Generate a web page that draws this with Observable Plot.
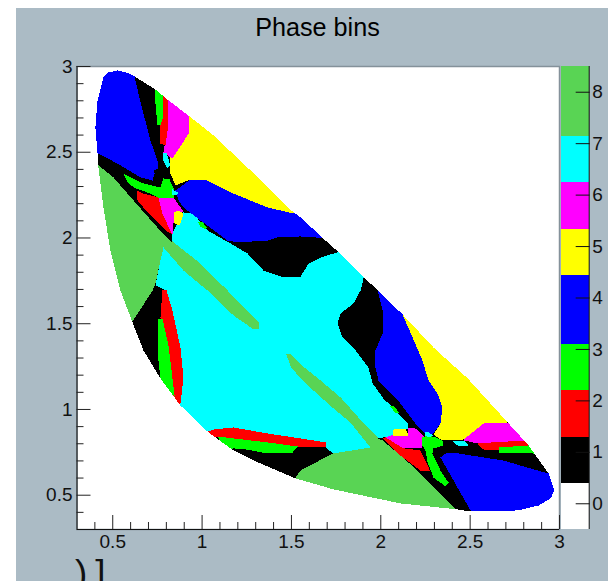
<!DOCTYPE html>
<html>
<head>
<meta charset="utf-8">
<script src="https://cdn.jsdelivr.net/npm/d3@7"></script>
<script src="https://cdn.jsdelivr.net/npm/@observablehq/plot@0.6"></script>
<style>
html,body{margin:0;padding:0;background:#fff;overflow:hidden}
#stage{position:relative;width:608px;height:581px;overflow:hidden;font-family:"Liberation Sans",sans-serif}
#pad{position:absolute;left:16px;top:8px;right:0;bottom:0;background:#abbbc5}
#stage svg{position:absolute;left:0;top:0}
#title{position:absolute;left:16px;width:603px;top:12px;text-align:center;font-size:25.2px;line-height:30px;color:#000}
#cut{position:absolute;left:75px;top:553px;font-size:37px;line-height:42px;letter-spacing:8px;color:#111;white-space:pre}
</style>
</head>
<body>
<div id="stage"><div id="pad"></div><div id="title">Phase bins</div><div id="cut">)]</div></div>
<script>
const binLabels = [0,1,2,3,4,5,6,7,8];
const binColors = ["#ffffff","#000000","#ff0000","#00ff00","#0000ff","#ffff00","#ff00ff","#00ffff","#59d454"];
const bandLower = [-0.5,0.39,1.29,2.2,3.09,4.44,5.33,6.25,7.14];
const bandUpper = [0.39,1.29,2.2,3.09,4.44,5.33,6.25,7.14,8.5];
const xyMajor = [0.5,1,1.5,2,2.5,3];
const xMajor = xyMajor;
const yMajor = xyMajor;
const xyMinor = [0.4,0.6,0.7,0.8,0.9,1.1,1.2,1.3,1.4,1.6,1.7,1.8,1.9,2.1,2.2,2.3,2.4,2.6,2.7,2.8,2.9];

const fullFrame = [0.3,0.3, 3,0.3, 3,3, 0.3,3];
const blueUpperLeft = [.622,2.942,.644,2.843,.672,2.726,.711,2.568,.750,2.452,.756,2.405,.728,2.394,.734,2.376,.723,2.335,.655,2.353,.527,2.434,.415,2.493,.348,2.493,.348,3,.6,3];
const greenLeft = [.420,2.423,.504,2.353,.616,2.219,.750,2.061,.834,1.974,.784,1.945,.767,1.869,.739,1.735,.723,1.694,.611,1.513,.376,1.513,.376,2.423];
const cyanMain = [.834,2.026,.862,2.085,.896,2.149,.952,2.143,1.030,2.044,1.159,1.968,1.254,1.910,1.344,1.810,1.456,1.770,1.551,1.775,1.596,1.851,1.663,1.886,1.791,1.927,1.914,1.810,1.887,1.694,1.847,1.618,1.775,1.560,1.758,1.501,1.786,1.420,1.859,1.344,1.931,1.245,1.954,1.152,2.015,1.064,2.094,.982,2.150,.918,2.150,.889,2.071,.848,1.982,.831,1.942,.778,1.735,.743,1.696,.773,1.691,.808,1.551,.831,1.366,.860,1.176,.895,1.064,.883,.991,.819,.823,.936,.879,1.035,.896,1.187,.879,1.361,.834,1.577,.795,1.694,.739,1.723,.767,1.869,.784,1.945,.834,1.974];
const greenBandUpper = [.834,1.980,.991,1.851,1.142,1.694,1.316,1.507,1.316,1.472,1.288,1.467,1.176,1.548,1.030,1.694,.896,1.810,.784,1.945];
const yellowUpper = [.924,2.714,.924,2.609,.890,2.551,.823,2.469,.823,2.376,.851,2.306,.935,2.341,1.030,2.335,1.176,2.259,1.366,2.178,1.512,2.143,1.551,2.120,1.607,2.219,.991,2.802];
const blueMiddle = [.851,2.277,.868,2.219,.896,2.178,.991,2.102,1.142,1.985,1.198,1.974,1.366,1.985,1.422,2.003,1.551,2.009,1.719,1.997,1.607,2.189,1.512,2.143,1.366,2.178,1.176,2.259,1.030,2.335,.935,2.341];
const greenSpeckUpper = [.974,2.096,.997,2.096,1.030,2.061,1.019,2.050,.991,2.067];
const magentaUpper = [.812,2.802,.851,2.860,.963,2.773,.924,2.714,.924,2.609,.890,2.551,.834,2.464,.784,2.498,.790,2.539,.812,2.668];
const redUpper = [.784,2.831,.795,2.860,.812,2.802,.812,2.668,.795,2.539,.767,2.551,.762,2.656,.784,2.714];
const greenUpper = [.739,2.918,.795,2.889,.784,2.831,.784,2.714,.767,2.656,.750,2.656,.739,2.784];
const cyanUpper = [.778,2.498,.801,2.493,.823,2.423,.806,2.405,.784,2.452];
const greenCentre = [.560,2.376,.599,2.353,.672,2.318,.767,2.294,.784,2.347,.818,2.341,.840,2.289,.840,2.236,.756,2.236,.695,2.265,.627,2.289,.588,2.318];
const cyanTinyUpper = [.834,2.283,.868,2.265,.857,2.248,.834,2.248];
const redCentre = [.633,2.277,.672,2.259,.756,2.236,.778,2.143,.834,2.020,.795,2.044,.695,2.149,.639,2.219];
const magentaCentre = [.756,2.236,.840,2.236,.896,2.154,.840,2.149,.840,2.085,.834,2.015,.778,2.143];
const yellowCentre = [.840,2.149,.868,2.160,.896,2.143,.874,2.073,.846,2.085];
const redLeft = [.778,1.694,.801,1.694,.834,1.577,.879,1.361,.896,1.187,.879,1.035,.868,1.029,.840,1.081,.812,1.268,.784,1.478,.767,1.536];
const greenStripLeft = [.756,1.530,.778,1.530,.812,1.373,.846,1.081,.767,1.111,.767,1.181,.756,1.286];
const redLower = [1.019,.866,1.064,.883,1.176,.895,1.366,.860,1.551,.831,1.691,.808,1.696,.778,1.534,.784,1.366,.808,1.176,.831,1.086,.842,1.058,.837];
const greenLower = [1.086,.842,1.176,.831,1.366,.808,1.534,.784,1.506,.749,1.338,.749,1.243,.767,1.176,.773,1.131,.761];
const greenBottom = [1.523,.603,1.551,.644,1.730,.743,1.942,.778,1.942,.802,1.982,.831,2.010,.819,2.110,.732,2.205,.644,2.429,.411,2.110,.353,1.495,.528];
const greenBandLower = [1.472,1.321,1.495,1.321,1.551,1.262,1.663,1.169,1.775,1.070,1.875,.953,1.987,.831,1.942,.778,1.830,.924,1.735,1.006,1.635,1.099,1.551,1.181,1.495,1.251];
const blueRight = [1.982,1.694,2.010,1.577,2.010,1.443,1.970,1.344,1.970,1.245,1.987,1.169,2.110,1.035,2.194,.918,2.250,.860,2.289,.854,2.334,.918,2.345,1.012,2.317,1.093,2.267,1.169,2.233,1.286,2.122,1.554,2.082,1.635,1.942,1.752];
const yellowRight = [2.122,1.554,2.233,1.286,2.267,1.169,2.317,1.093,2.345,1.012,2.334,.918,2.295,.854,2.345,.819,2.463,.825,2.513,.866,2.575,.918,2.710,.924,2.782,.965,2.166,1.606];
const magentaRight = [2.463,.825,2.513,.866,2.575,.918,2.715,.924,2.754,.982,2.866,.877,2.810,.819,2.614,.807,2.541,.802,2.468,.819];
const redRight = [2.541,.802,2.614,.807,2.810,.819,2.866,.802,2.827,.790,2.659,.778,2.659,.761,2.569,.767];
const greenRight = [2.659,.778,2.827,.790,2.894,.761,2.860,.743,2.659,.749];
const cyanRight = [2.401,.819,2.468,.819,2.491,.790,2.435,.784];
const magentaLower = [2.150,.895,2.194,.889,2.250,.837,2.233,.819,2.233,.778,2.127,.773,2.054,.808,2.026,.837,2.071,.854,2.150,.848];
const yellowLower = [2.071,.883,2.138,.889,2.155,.848,2.071,.848];
const redLowerRight = [2.010,.831,2.026,.837,2.127,.773,2.222,.761,2.278,.638,2.222,.644,2.094,.743];
const greenLowerRight = [2.233,.837,2.261,.848,2.306,.837,2.345,.819,2.351,.790,2.295,.773,2.289,.743,2.334,.644,2.379,.574,2.362,.551,2.295,.603,2.262,.691,2.250,.761,2.233,.790];
const cyanTinyLower = [2.245,.866,2.267,.866,2.295,.848,2.267,.837,2.250,.848];
const blueBottom = [2.334,.720,2.362,.743,2.407,.749,2.502,.732,2.687,.702,2.877,.644,2.939,.627,3,.586,3,.3,2.513,.353,2.502,.411];
const greenSpeckLower = [2.049,1.023,2.071,1.023,2.105,.977,2.082,.977];
const dalitzEdge = [.527,2.977,.577,2.965,.622,2.942,.739,2.866,.812,2.802,.924,2.714,1.064,2.598,1.271,2.394,1.478,2.178,1.551,2.120,1.696,1.980,1.791,1.892,1.897,1.781,1.982,1.694,2.122,1.554,2.295,1.361,2.486,1.181,2.710,.924,2.827,.790,2.939,.627,2.972,.528,2.950,.481,2.883,.440,2.765,.411,2.502,.405,2.430,.417,2.110,.452,1.735,.534,1.523,.598,1.288,.703,1.176,.761,1.036,.866,.879,1.023,.767,1.181,.672,1.344,.611,1.507,.543,1.694,.487,1.927,.448,2.178,.420,2.411,.415,2.493,.403,2.644,.415,2.802,.448,2.936,.476,2.965,.527,2.977];

// Kinematically forbidden area (bin 0): frame corners, then the edge walked the other way round
const edgePoints = d3.range(0, dalitzEdge.length, 2).map(i => [dalitzEdge[i], dalitzEdge[i + 1]]);
const forbidden = [0.3,3, 3,3, 3,0.3, 0.3,0.3, 0.3,3, ...edgePoints.slice().reverse().flat()];

const regions = [
  [1, fullFrame],[4, blueUpperLeft],[8, greenLeft],[7, cyanMain],[8, greenBandUpper],[5, yellowUpper],[4, blueMiddle],
  [3, greenSpeckUpper],[6, magentaUpper],[2, redUpper],[3, greenUpper],[7, cyanUpper],[3, greenCentre],[7, cyanTinyUpper],
  [2, redCentre],[6, magentaCentre],[5, yellowCentre],[2, redLeft],[3, greenStripLeft],[2, redLower],[3, greenLower],
  [8, greenBottom],[8, greenBandLower],[4, blueRight],[5, yellowRight],[6, magentaRight],[2, redRight],[3, greenRight],
  [7, cyanRight],[6, magentaLower],[5, yellowLower],[2, redLowerRight],[3, greenLowerRight],[7, cyanTinyLower],
  [4, blueBottom],[3, greenSpeckLower],[0, forbidden]
];
const table = regions.flatMap(([bin, flat], id) =>
  d3.range(0, flat.length, 2).map(i => ({id, bin, x: flat[i], y: flat[i + 1]})));
const bands = binLabels.map((bin, i) => ({bin, lo: bandLower[i], hi: bandUpper[i]}));

const color = {type: "ordinal", domain: binLabels, range: binColors, legend: false};
const base = {
  width: 608, height: 581, marginTop: 66, marginBottom: 52,
  style: {background: "transparent", fontFamily: "Liberation Sans", fontSize: "19px", color: "#111", overflow: "visible"}
};

const main = Plot.plot({
  ...base, marginLeft: 76.5, marginRight: 49,
  color,
  x: {domain: [0.3, 3], label: null},
  y: {domain: [0.3, 3], label: null},
  marks: [
    Plot.line(table, {x: "x", y: "y", z: "id", fill: "bin", stroke: "none", shapeRendering: "crispEdges"}),
    Plot.frame({stroke: "#84919a", strokeWidth: 1.5}),
    Plot.ruleX([0.3], {stroke: "#111"}),
    Plot.ruleY([0.3], {stroke: "#111"}),
    Plot.axisX(xyMinor, {tickSize: -7, fill: "none", label: null, stroke: "#222"}),
    Plot.axisY(xyMinor, {tickSize: -7, fill: "none", label: null, stroke: "#222"}),
    Plot.axisX(xMajor, {tickSize: -14, fill: "none", label: null, stroke: "#222"}),
    Plot.axisY(yMajor, {tickSize: -14, fill: "none", label: null, stroke: "#222"}),
    Plot.axisX(xMajor, {tickSize: 0, tickPadding: 5, tickFormat: String, label: null}),
    Plot.axisY(yMajor, {tickSize: 0, tickPadding: 4.5, tickFormat: String, label: null})
  ]
});

const palette = Plot.plot({
  ...base, marginLeft: 561, marginRight: 19.3,
  color,
  x: {domain: [0, 1], axis: null},
  y: {domain: [-0.5, 8.5], label: null},
  marks: [
    Plot.rect(bands, {x1: 0, x2: 1, y1: "lo", y2: "hi", fill: "bin", shapeRendering: "crispEdges"}),
    Plot.ruleX([1], {stroke: "#111"}),
    Plot.axisY(binLabels, {anchor: "right", tickSize: -14, fill: "none", label: null, stroke: "#111"}),
    Plot.axisY(binLabels, {anchor: "right", tickSize: 0, tickPadding: 3, tickFormat: String, label: null})
  ]
});

document.getElementById("stage").append(main, palette);
</script>
</body>
</html>
